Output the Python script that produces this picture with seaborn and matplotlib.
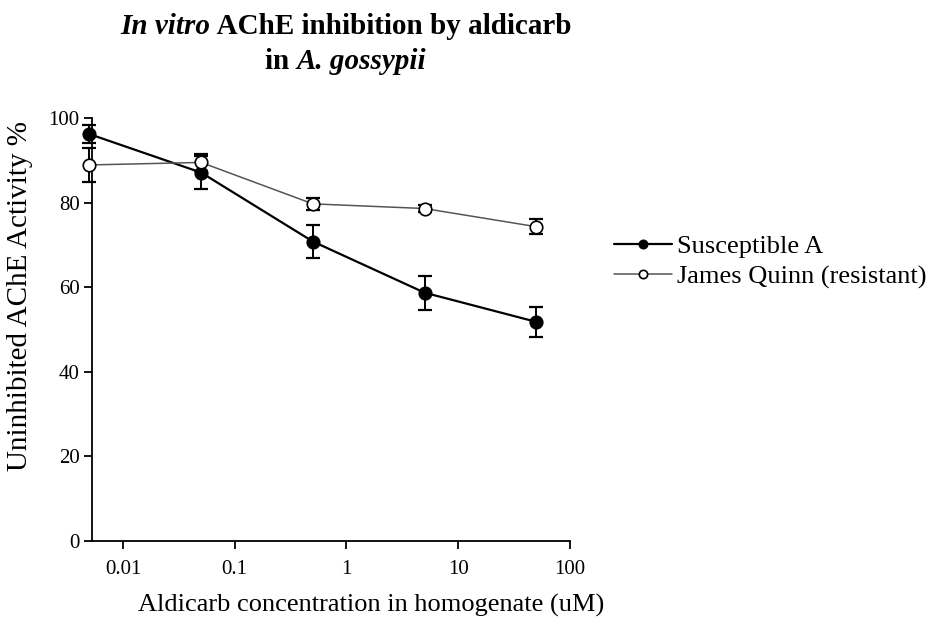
import numpy as np
import pandas as pd
import matplotlib
matplotlib.use("Agg")
import matplotlib.pyplot as plt
import seaborn as sns

conc = [0.005, 0.05, 0.5, 5, 50]
susceptible = [96.2, 87.1, 70.8, 58.7, 51.8]
susceptible_err = [2.2, 4.0, 3.9, 4.0, 3.5]
resistant = [88.9, 89.5, 79.7, 78.6, 74.3]
resistant_err = [4.0, 2.0, 1.5, 0.8, 1.8]
series_names = ["Susceptible A", "James Quinn (resistant)"]
xticks = [0.01, 0.1, 1, 10, 100]
xticklabels = ["0.01", "0.1", "1", "10", "100"]
yticks = [0, 20, 40, 60, 80, 100]
title_line1 = [("In vitro", "italic"), (" AChE inhibition by aldicarb", "normal")]
title_line2 = [("in ", "normal"), ("A. gossypii", "italic")]

sns.set_theme(style="ticks")
plt.rcParams['font.family'] = ['Liberation Serif', 'DejaVu Serif']
plt.rcParams['text.color'] = 'black'

df = pd.DataFrame({
    "conc": conc * 2,
    "value": susceptible + resistant,
    "err": susceptible_err + resistant_err,
    "series": [series_names[0]] * 5 + [series_names[1]] * 5,
})

fig = plt.figure(figsize=(9.39, 6.26), dpi=100)
ax = fig.add_axes([92/939, 1-541/626, (570-92)/939, (541-118)/626])

styles = {
    series_names[0]: dict(color="black", lw=1.6, mfc="black", mec="black"),
    series_names[1]: dict(color="#555555", lw=1.1, mfc="white", mec="black"),
}
for name in series_names:
    sub = df[df.series == name]
    st = styles[name]
    eb = ax.errorbar(sub.conc, sub.value, yerr=sub.err, fmt="none", ecolor="black",
                     elinewidth=1.4, capsize=5, capthick=1.6, zorder=2)
    for art in eb.get_children():
        art.set_clip_on(False)
    sns.lineplot(data=sub, x="conc", y="value", ax=ax, color=st["color"],
                 linewidth=st["lw"], marker="o", markersize=9,
                 markerfacecolor=st["mfc"], markeredgecolor=st["mec"],
                 markeredgewidth=1.2, label=name, zorder=3, clip_on=False)

ax.set_xscale("log")
ax.set_xlim(0.00528, 100)
ax.set_ylim(0, 100)
ax.set_xticks(xticks)
ax.set_xticklabels(xticklabels)
ax.xaxis.set_minor_locator(matplotlib.ticker.NullLocator())
ax.set_yticks(yticks)
ax.tick_params(axis="both", labelsize=15, length=6, width=1.3, color="black", labelcolor="black")
ax.tick_params(axis="x", pad=8)
ax.tick_params(axis="y", pad=3)
for s in ["top", "right"]:
    ax.spines[s].set_visible(False)
for s in ["left", "bottom"]:
    ax.spines[s].set_linewidth(1.3)
    ax.spines[s].set_color("black")
ax.set_xlabel("")
ax.set_ylabel("")

fig.text(371/939, 1-605/626, "Aldicarb concentration in homogenate (uM)",
         ha="center", va="center", fontsize=19, color="black")
fig.text(20/939, 1-296/626, "Uninhibited AChE Activity %", rotation=90,
         ha="center", va="center", fontsize=21, color="black")

renderer = fig.canvas.get_renderer()
W = fig.bbox.width


def rich_line(parts, xc, yb, fs):
    widths = []
    arts = []
    for txt, style in parts:
        t = fig.text(0, yb, txt, fontsize=fs, fontweight="bold", fontstyle=style,
                     ha="left", va="baseline", color="black")
        widths.append(t.get_window_extent(renderer).width)
        arts.append(t)
    total = sum(widths)
    x = xc * W - total / 2
    for t, w in zip(arts, widths):
        t.set_x(x / W)
        x += w


rich_line(title_line1, 346/939, 1-34/626, 21)
rich_line(title_line2, 346/939, 1-69/626, 21)

leg = ax.legend(loc="upper left", bbox_to_anchor=(603/939, 1-224/626),
                bbox_transform=fig.transFigure, frameon=False, fontsize=19,
                handlelength=2.2, handletextpad=0.2, labelspacing=0.25,
                borderaxespad=0)
for t in leg.get_texts():
    t.set_color("black")
for h in leg.legend_handles:
    h.set_markersize(6)

fig.savefig("out.png", dpi=100)
